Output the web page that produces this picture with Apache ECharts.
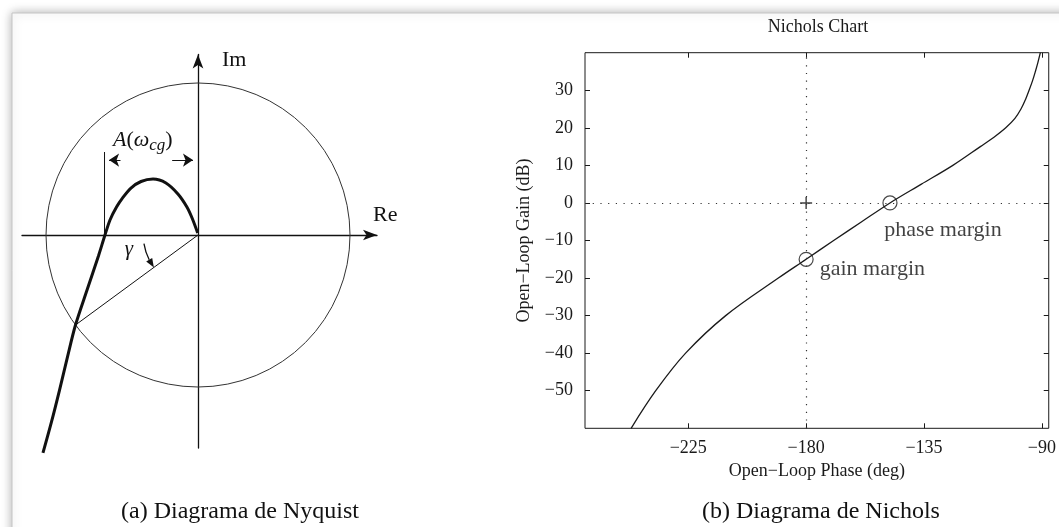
<!DOCTYPE html>
<html>
<head>
<meta charset="utf-8">
<script src="https://cdn.jsdelivr.net/npm/echarts@6/dist/echarts.min.js"></script>
<style>
	body { margin: 0; background: #fff; }
	#main { width: 1059px; height: 527px; }
</style>
</head>
<body>
<div id="main"></div>
<script>
	// ---- Nyquist (units: radius of unit circle = 1) ----
	var nyqRe = [-0.002, -0.039, -0.074, -0.132, -0.211, -0.296, -0.375, -0.441, -0.497, -0.536, -0.579, -0.612, -0.655, -0.730, -0.806, -0.859, -0.911, -0.964, -1.020];
	var nyqIm = [0.013, 0.112, 0.186, 0.270, 0.342, 0.368, 0.352, 0.309, 0.243, 0.184, 0.099, 0, -0.138, -0.362, -0.592, -0.803, -1.020, -1.230, -1.434];
	var unitCircle = [[0, 0, 1]];
	var crossPoint = [-0.806, -0.592];
	var gammaArc = [[0, 0, 0.36, 189, 216.3]]; // centre x, centre y, radius, from deg, to deg
	var dimLineX = [-0.615, -0.615];
	var dimLineY = [0, 0.546];
	var dimArrowLeft = [[-0.51, 0.493], [-0.585, 0.493]];
	var dimArrowRight = [[-0.17, 0.493], [-0.033, 0.493]];

	// ---- Nichols ----
	var phaseDeg = [-246.8, -237.4, -226, -210.7, -190.6, -180, -169.5, -158.8, -148, -136, -124, -113.5, -108.3, -103.8, -100.3, -98, -96.3, -94.9, -93.6, -92.5, -91.5, -90.6];
	var gainDb = [-60, -50, -40, -30, -20, -15, -10, -5, 0, 5, 10, 15, 17.5, 20, 22.5, 25, 27.5, 30, 32.5, 35, 37.5, 40];
	var phaseTicks = [-225, -180, -135, -90];
	var gainTicks = [-50, -40, -30, -20, -10, 0, 10, 20, 30];
	var criticalPt = [-180, 0];
	var gainMarginPt = [-180, -15];
	var phaseMarginPt = [-148, 0];

	var serif = '"Liberation Serif", "DejaVu Serif", serif';
	var ink = '#1a1a1a';

	function minus(v) {
		return String(v).replace('-', '\u2212');
	}

	function pairs(xs, ys) {
		var out = [];
		for(var i = 0; i < xs.length; i++) {
			out.push([xs[i], ys[i]]);
		}
		return out;
	}

	function renderCircle(params, api) {
		var c = api.coord([api.value(0), api.value(1)]);
		var r = api.size([api.value(2), 0])[0];
		return {
			type: 'circle',
			shape: { cx: c[0], cy: c[1], r: r },
			style: { fill: 'none', stroke: '#333', lineWidth: 1 }
		};
	}

	function renderArc(params, api) {
		var c = api.coord([api.value(0), api.value(1)]);
		var r = api.size([api.value(2), 0])[0];
		var a0 = api.value(3) * Math.PI / 180;
		var a1 = api.value(4) * Math.PI / 180;
		var headLen = 9, headW = 3.5;
		var aBase = a1 - headLen / r;
		var tip = [c[0] + r * Math.cos(a1), c[1] - r * Math.sin(a1)];
		var base = [c[0] + r * Math.cos(aBase), c[1] - r * Math.sin(aBase)];
		var dx = tip[0] - base[0], dy = tip[1] - base[1];
		var len = Math.sqrt(dx * dx + dy * dy);
		var nx = -dy / len * headW, ny = dx / len * headW;
		return {
			type: 'group',
			children: [{
				type: 'arc',
				shape: { cx: c[0], cy: c[1], r: r, startAngle: -aBase, endAngle: -a0, clockwise: true },
				style: { fill: 'none', stroke: '#111', lineWidth: 1.3 }
			}, {
				type: 'polygon',
				shape: { points: [tip, [base[0] + nx, base[1] + ny], [base[0] - nx, base[1] - ny]] },
				style: { fill: '#111' }
			}]
		};
	}

	var hiddenAxisBits = {
		axisTick: { show: false },
		axisLabel: { show: false },
		splitLine: { show: false }
	};

	function nicholsX(pos, showLabel) {
		return {
			gridIndex: 1,
			type: 'value',
			min: -264.4,
			max: -87.4,
			position: pos,
			axisLine: { show: false, onZero: false },
			axisTick: { inside: true, length: 5, customValues: phaseTicks, lineStyle: { color: ink, width: 1 } },
			axisLabel: {
				show: showLabel,
				customValues: phaseTicks,
				formatter: minus,
				margin: 11,
				fontSize: 18,
				fontFamily: serif,
				color: ink
			},
			splitLine: { show: false }
		};
	}

	function nicholsY(pos, showLabel) {
		return {
			gridIndex: 1,
			type: 'value',
			min: -60,
			max: 40,
			interval: 10,
			position: pos,
			axisLine: { show: false, onZero: false },
			axisTick: { inside: true, length: 5, customValues: gainTicks, lineStyle: { color: ink, width: 1 } },
			axisLabel: {
				show: showLabel,
				customValues: gainTicks,
				formatter: minus,
				margin: 12,
				fontSize: 18,
				fontFamily: serif,
				color: ink
			},
			splitLine: { show: false }
		};
	}

	var xBottom = nicholsX('bottom', true);
	xBottom.name = 'Open\u2212Loop Phase (deg)';
	xBottom.nameLocation = 'middle';
	xBottom.nameGap = 30;
	xBottom.nameTextStyle = { fontSize: 18, fontFamily: serif, color: ink };

	var yLeft = nicholsY('left', true);
	yLeft.name = 'Open\u2212Loop Gain (dB)';
	yLeft.nameLocation = 'middle';
	yLeft.nameGap = 52;
	yLeft.nameTextStyle = { fontSize: 18, fontFamily: serif, color: ink };

	var nyqAxisLine = {
		onZero: true,
		symbol: ['none', 'arrow'],
		symbolSize: [8, 14],
		lineStyle: { color: '#111', width: 1.3 }
	};

	function label(x, y, text, size, extra) {
		var style = { text: text, fontSize: size, fontFamily: serif, fill: '#111', verticalAlign: 'middle' };
		for(var k in extra) {
			style[k] = extra[k];
		}
		return { type: 'text', x: x, y: y, style: style };
	}

	var option = {
		animation: false,
		grid: [{
			left: 22, top: 54.5, width: 355, height: 393.5, show: false
		}, {
			left: 585, top: 52.7, width: 472.3, height: 375.6,
			show: true, borderColor: ink, borderWidth: 1, backgroundColor: 'transparent'
		}],
		xAxis: [
			Object.assign({ gridIndex: 0, type: 'value', min: -1.1579, max: 1.1776, axisLine: nyqAxisLine }, hiddenAxisBits),
			xBottom,
			nicholsX('top', false)
		],
		yAxis: [
			Object.assign({ gridIndex: 0, type: 'value', min: -1.4013, max: 1.1875, axisLine: nyqAxisLine }, hiddenAxisBits),
			yLeft,
			nicholsY('right', false)
		],
		graphic: [{
			type: 'rect', z: -10, silent: true,
			shape: { x: 12, y: 13, width: 1200, height: 700 },
			style: { fill: '#fff', stroke: '#c4c4c4', lineWidth: 1, shadowBlur: 10, shadowColor: 'rgba(0,0,0,0.3)' }
		},
			label(222, 60, 'Im', 22),
			label(373, 215, 'Re', 22),
			label(113, 140, '{i|A}{n|(}{i|\u03c9}{s|cg}{n|)}', 22, {
				rich: {
					i: { fontStyle: 'italic', fontSize: 22, fontFamily: serif, fill: '#111' },
					n: { fontSize: 22, fontFamily: serif, fill: '#111' },
					s: { fontStyle: 'italic', fontSize: 17, fontFamily: serif, fill: '#111', padding: [11, 0, 0, 0] }
				}
			}),
			label(129, 249, '\u03b3', 21, { fontStyle: 'italic', align: 'center' }),
			label(240, 512, '(a) Diagrama de Nyquist', 24, { align: 'center' }),
			label(821, 512, '(b) Diagrama de Nichols', 24, { align: 'center' }),
			label(818, 27, 'Nichols Chart', 18, { align: 'center', fill: ink })
		],
		series: [{
			type: 'custom',
			xAxisIndex: 0, yAxisIndex: 0,
			renderItem: renderCircle,
			data: unitCircle,
			silent: true
		}, {
			type: 'line',
			xAxisIndex: 0, yAxisIndex: 0,
			data: [[0, 0], crossPoint],
			symbol: 'none',
			lineStyle: { color: '#111', width: 1 },
			silent: true
		}, {
			type: 'line',
			xAxisIndex: 0, yAxisIndex: 0,
			data: pairs(nyqRe, nyqIm),
			smooth: 0.3,
			symbol: 'none',
			clip: false,
			lineStyle: { color: '#111', width: 3 },
			silent: true
		}, {
			type: 'line',
			xAxisIndex: 0, yAxisIndex: 0,
			data: pairs(dimLineX, dimLineY),
			symbol: 'none',
			lineStyle: { color: '#111', width: 1 },
			silent: true
		}, {
			type: 'lines',
			coordinateSystem: 'cartesian2d',
			xAxisIndex: 0, yAxisIndex: 0,
			data: [{ coords: dimArrowLeft }, { coords: dimArrowRight }],
			symbol: ['none', 'arrow'],
			symbolSize: 10,
			lineStyle: { color: '#111', width: 1.2, opacity: 1 },
			itemStyle: { color: '#111' },
			silent: true
		}, {
			type: 'custom',
			xAxisIndex: 0, yAxisIndex: 0,
			renderItem: renderArc,
			data: gammaArc,
			silent: true
		}, {
			type: 'line',
			xAxisIndex: 1, yAxisIndex: 1,
			data: pairs(phaseDeg, gainDb),
			smooth: 0.35,
			symbol: 'none',
			lineStyle: { color: ink, width: 1.3 },
			silent: true,
			markLine: {
				silent: true,
				symbol: ['none', 'none'],
				label: { show: false },
				lineStyle: { color: '#333', width: 1.2, type: [1.2, 6.5] },
				data: [{ xAxis: criticalPt[0] }, { yAxis: criticalPt[1] }]
			}
		}, {
			type: 'scatter',
			xAxisIndex: 1, yAxisIndex: 1,
			data: [criticalPt],
			symbol: 'path://M0,4.4H10V5.6H0ZM4.4,0H5.6V10H4.4Z',
			symbolSize: 12,
			itemStyle: { color: '#111' },
			silent: true
		}, {
			type: 'scatter',
			xAxisIndex: 1, yAxisIndex: 1,
			symbol: 'circle',
			symbolSize: 14,
			itemStyle: { color: 'rgba(0,0,0,0)', borderColor: ink, borderWidth: 1.2 },
			label: { show: true, fontSize: 22, fontFamily: serif, color: '#111' },
			data: [{
				value: gainMarginPt,
				label: { position: 'right', distance: 5, offset: [1, 10], formatter: 'gain margin' }
			}, {
				value: phaseMarginPt,
				label: { position: 'bottom', distance: 5, offset: [53, 4], formatter: 'phase margin' }
			}],
			silent: true
		}]
	};

	var chart = echarts.init(document.getElementById('main'));
	chart.setOption(option);
</script>
</body>
</html>
